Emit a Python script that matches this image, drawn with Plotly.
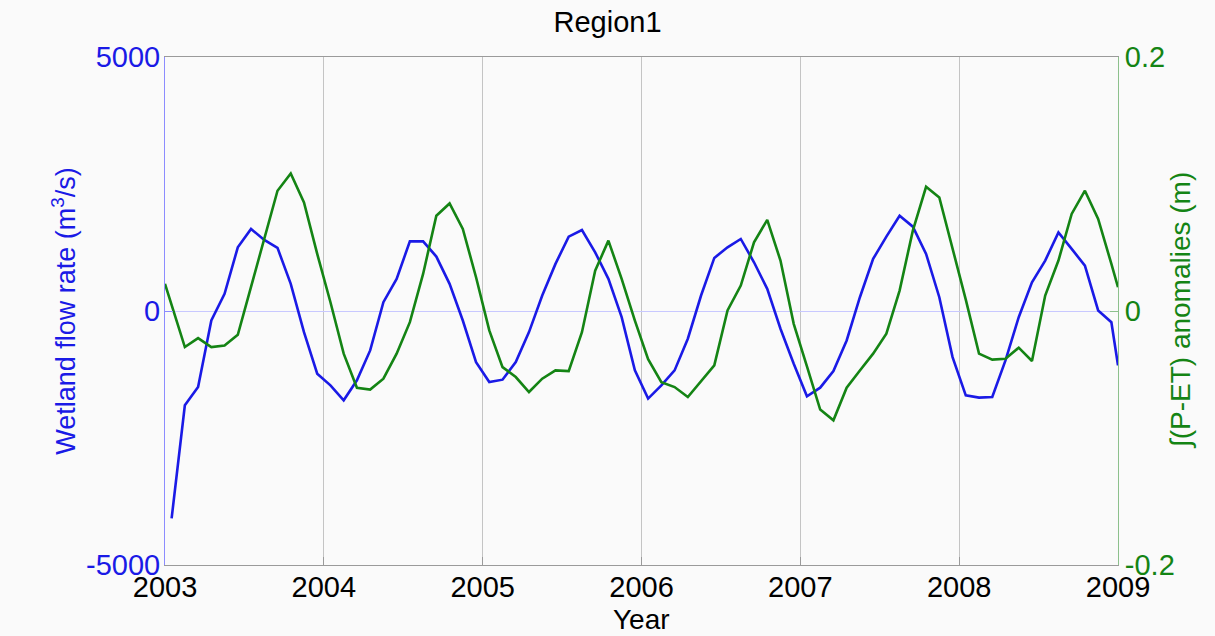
import plotly.graph_objects as go

# ---- data ----
years = [2003, 2004, 2005, 2006, 2007, 2008, 2009]
year_labels = ["2003", "2004", "2005", "2006", "2007", "2008", "2009"]

# monthly mid-points, 2003-01 .. 2008-12
months_mid = [2003 + (m + 0.5) / 12 for m in range(72)]

flow_time = months_mid + [2009.0]
flow_rate = [
    -4082, -1857, -1497, -187, 338, 1253, 1615, 1399, 1242, 534, -416, -1234,
    -1464, -1758, -1365, -776, 173, 633, 1371, 1371, 1071, 534, -187, -1006,
    -1399, -1352, -1006, -416, 305, 927, 1464, 1595, 1155, 633, -122, -1169,
    -1725, -1464, -1169, -546, 305, 1045, 1253, 1418, 959, 436, -350, -1037,
    -1680, -1509, -1183, -580, 271, 1026, 1464, 1876, 1660, 1124, 271, -908,
    -1660, -1705, -1693, -972, -122, 566, 992, 1548, 1222, 894, 10, -220,
    -1071,
]

pet_time = [2003.0] + months_mid[1:] + [2009.0]
pet_anom = [
    0.0214, -0.0284, -0.0214, -0.0284, -0.0271, -0.0187, 0.0190, 0.0570, 0.0947, 0.1083, 0.0855, 0.0450,
    0.0069, -0.0336, -0.0604, -0.0619, -0.0533, -0.0336, -0.0088, 0.0292, 0.0750, 0.0847, 0.0646, 0.0266,
    -0.0153, -0.0442, -0.0520, -0.0638, -0.0533, -0.0468, -0.0473, -0.0167, 0.0318, 0.0554, 0.0253, -0.0075,
    -0.0380, -0.0560, -0.0599, -0.0677, -0.0552, -0.0428, 0.0004, 0.0200, 0.0541, 0.0717, 0.0397, -0.0101,
    -0.0436, -0.0776, -0.0861, -0.0604, -0.0468, -0.0336, -0.0179, 0.0161, 0.0633, 0.0978, 0.0894, 0.0501,
    0.0090, -0.0336, -0.0383, -0.0376, -0.0289, -0.0394, 0.0122, 0.0397, 0.0764, 0.0947, 0.0725, 0.0371,
    0.0187,
]

left_ticks = [-5000, 0, 5000]
left_labels = ["-5000", "0", "5000"]
right_ticks = [-0.2, 0, 0.2]
right_labels = ["-0.2", "0", "0.2"]

BLUE = "#1a1ae6"
GREEN = "#148414"
FONT = "Liberation Sans, Arial, Helvetica, sans-serif"

fig = go.Figure()
fig.add_trace(go.Scatter(x=flow_time, y=flow_rate, mode="lines",
                         line=dict(color=BLUE, width=2.6), yaxis="y",
                         showlegend=False))
fig.add_trace(go.Scatter(x=pet_time, y=pet_anom, mode="lines",
                         line=dict(color=GREEN, width=2.6), yaxis="y2",
                         showlegend=False))

fig.update_layout(
    width=1215, height=636,
    margin=dict(l=165, r=97, t=57, b=71),
    paper_bgcolor="#fafafa", plot_bgcolor="#fafafa",
    font=dict(family=FONT, size=29, color="black"),
    title=dict(text="Region1", x=0.5, xanchor="center", y=1 - 22 / 636,
               yanchor="middle", font=dict(size=29, color="black")),
    xaxis=dict(range=[2003, 2009], tickvals=years, ticktext=year_labels,
               automargin=False,
               showgrid=True, gridcolor="#c4c4c4", gridwidth=1,
               showline=True, linecolor="#9a9a9a", linewidth=1, mirror=True,
               ticks="inside", ticklen=8, tickcolor="#9a9a9a",
               ticklabelstandoff=-4,
               zeroline=False, tickfont=dict(size=29, color="black")),
    yaxis=dict(range=[-5000, 5000], tickvals=left_ticks, ticktext=left_labels,
               automargin=False,
               showgrid=True, gridcolor="#c8c8ff", gridwidth=1, zeroline=False,
               showline=True, linecolor="#8c8cff", linewidth=1,
               ticks="inside", ticklen=8, tickcolor="#8c8cff",
               ticklabelstandoff=-2,
               tickfont=dict(size=29, color=BLUE),
               title=dict(text="Wetland flow rate (m<sup>3</sup>/s)",
                          font=dict(size=27, color=BLUE), standoff=2)),
    yaxis2=dict(range=[-0.2, 0.2], tickvals=right_ticks, ticktext=right_labels,
                overlaying="y", side="right", showgrid=False, zeroline=False,
                automargin=False,
                showline=True, linecolor="#8cc08c", linewidth=1,
                ticks="inside", ticklen=8, tickcolor="#8cc08c",
                tickfont=dict(size=29, color=GREEN)),
    annotations=[
        dict(text="Year", xref="paper", yref="paper", x=0.5, y=(565 - 619) / 508,
             xanchor="center", yanchor="middle", showarrow=False,
             font=dict(size=28, color="black")),
        dict(text="∫(P-ET) anomalies (m)", xref="paper", yref="paper",
             x=(1180 - 165) / 953, y=0.5, textangle=-90,
             xanchor="center", yanchor="middle", showarrow=False,
             font=dict(size=28, color=GREEN)),
    ],
)

fig.write_html("out.html",
               config={"displayModeBar": False},
               post_script="document.body.style.margin='0';document.body.style.background='#fafafa';")
